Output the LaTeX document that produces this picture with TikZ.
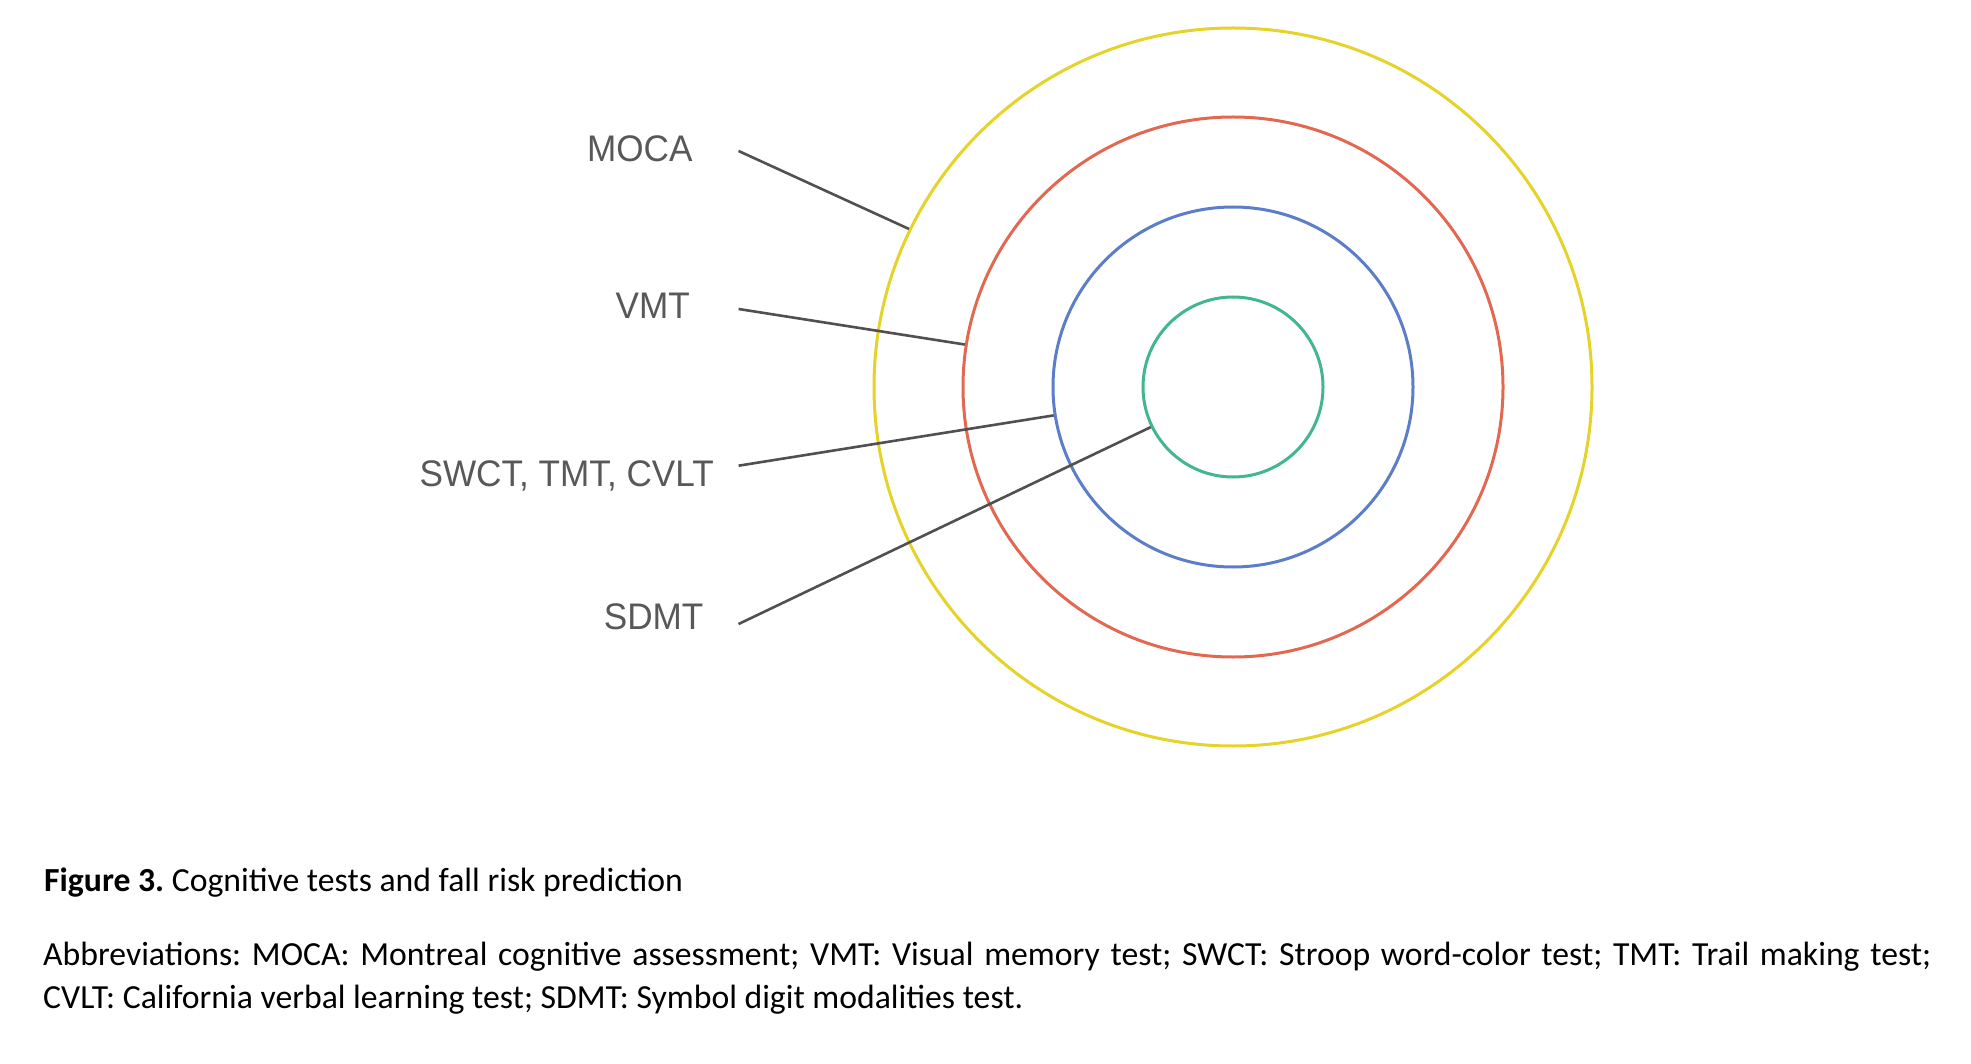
\documentclass[tikz,border=0pt]{standalone}
\usepackage{fontspec}
\setmainfont{Carlito}
\newfontfamily\testfont[FakeStretch=0.95]{Liberation Sans}
\usepackage{xcolor}
\usetikzlibrary{positioning}
\definecolor{ringyellow}{RGB}{229,211,42}
\definecolor{ringred}{RGB}{226,104,82}
\definecolor{ringblue}{RGB}{92,126,200}
\definecolor{ringgreen}{RGB}{66,182,140}
\definecolor{labelgray}{RGB}{88,88,88}
\definecolor{linegray}{RGB}{80,80,80}
\frenchspacing

\begin{document}
\begin{tikzpicture}[x=1pt, y=-1pt, font=\testfont\fontsize{37}{40}\selectfont]
    \tikzstyle{ring}=[draw, circle, inner sep=0pt, line width=3pt]
    \tikzstyle{test}=[text=labelgray, inner sep=0pt, anchor=base east]
    \tikzstyle{pointer}=[draw=linegray, line width=2.6pt]
    \tikzstyle{caption}=[font=\rmfamily\fontsize{33.7}{43.3}\selectfont, inner sep=0pt, anchor=base west]

    \useasboundingbox (0,0) rectangle (1971,1064);

    % rings, outer to inner
    \node[ring, draw=ringyellow, minimum size=718pt] (moca) at (1233,387) {};
    \node[ring, draw=ringred, minimum size=540pt] (vmt) at (1233,387) {};
    \node[ring, draw=ringblue, minimum size=360pt] (swct) at (1233,387) {};
    \node[ring, draw=ringgreen, minimum size=180pt] (sdmt) at (1233,387) {};

    \coordinate (mocastart) at (738.6,151);
    \coordinate (vmtstart) at (738.6,309);
    \coordinate (swctstart) at (738.6,465.7);
    \coordinate (sdmtstart) at (738.6,624);

    \node[test] (mocalabel) at (692.7,161.7) {MOCA};
    \node[test] (vmtlabel) at (690,318.6) {VMT};
    \node[test] (swctlabel) at (714,486.8) {SWCT, TMT, CVLT};
    \node[test] (sdmtlabel) at (703.6,629) {SDMT};

    \path[pointer] (mocastart) -- (moca.154.5);
    \path[pointer] (vmtstart) -- (vmt.171);
    \path[pointer] (swctstart) -- (swct.189);
    \path[pointer] (sdmtstart) -- (sdmt.206);

    \node[caption] (title) at (44,891.7) {\textbf{Figure 3.} Cognitive tests and fall risk prediction};
    \node[caption, text width=1888pt, align=justify] (abbrev) at (43,965) {Abbreviations: MOCA: Montreal cognitive assessment; VMT: Visual memory test; SWCT: Stroop word-color test; TMT: Trail making test;\linebreak CVLT: California verbal learning test; SDMT: Symbol digit modalities test.};
\end{tikzpicture}
\end{document}
